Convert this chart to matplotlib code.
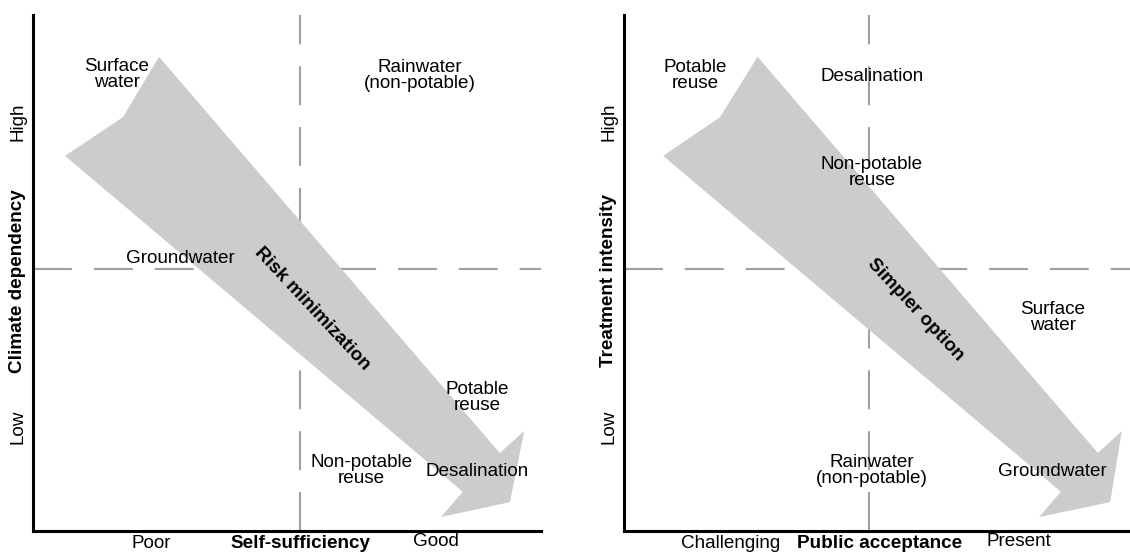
import matplotlib.pyplot as plt
from matplotlib.patches import Polygon

plt.rcParams['font.family'] = ['Liberation Sans', 'DejaVu Sans']

########   Values (axes run 0-10 on both sides)   ########

# left panel : self-sufficiency vs climate dependency
left_arrow_x = [0.63, 1.77, 2.48, 9.19, 9.67, 9.39, 8.03, 8.46]
left_arrow_y = [7.27, 8.02, 9.19, 1.51, 1.94, 0.56, 0.27, 0.76]
left_split = (5.26, 5.08)
left_labels = ['Surface\nwater', 'Rainwater\n(non-potable)', 'Groundwater',
               'Potable\nreuse', 'Non-potable\nreuse', 'Desalination']
left_lx = [1.65, 7.62, 2.91, 8.74, 6.46, 8.74]
left_ly = [8.84, 8.82, 5.29, 2.58, 1.18, 1.16]
left_arrow_text = ('Risk minimization', 5.49, 4.30)
left_xlabel = 'Self-sufficiency'
left_ylabel = 'Climate dependency'
left_xticks = ['Poor', 'Good']

# right panel : public acceptance vs treatment intensity
right_arrow_x = [0.77, 1.89, 2.63, 9.33, 9.80, 9.57, 8.17, 8.60]
right_arrow_y = [7.27, 8.02, 9.19, 1.51, 1.94, 0.56, 0.27, 0.76]
right_split = (4.82, 5.08)
right_labels = ['Potable\nreuse', 'Desalination', 'Non-potable\nreuse',
                'Surface\nwater', 'Rainwater\n(non-potable)', 'Groundwater']
right_lx = [1.40, 4.88, 4.88, 8.44, 4.88, 8.44]
right_ly = [8.82, 8.80, 6.94, 4.13, 1.18, 1.16]
right_arrow_text = ('Simpler option', 5.73, 4.28)
right_xlabel = 'Public acceptance'
right_ylabel = 'Treatment intensity'
right_xticks = ['Challenging', 'Present']

fs = 13.6
dash = (0, (18.7, 10.5))


def panel(ax, ax_x, ax_y, split, labels, lx, ly, atext, xlabel, ylabel,
          xticks, xtick_pos, xlabel_pos):
    ax.set_ylim(0, 10)
    for s in ['top', 'right']:
        ax.spines[s].set_visible(False)
    for s in ['left', 'bottom']:
        ax.spines[s].set_linewidth(2.2)
    ax.set_xticks([])
    ax.set_yticks([])
    ax.patch.set_alpha(0)
    # quadrant dividers, behind the arrow
    ax.axvline(split[0], c='#a0a0a0', lw=1.5, ls=dash, zorder=1)
    ax.axhline(split[1], c='#a0a0a0', lw=1.5, ls=dash, zorder=1)
    ax.add_patch(Polygon(list(zip(ax_x, ax_y)), closed=True, fc='#cccccc',
                         ec='none', zorder=2))
    for t, x, y in zip(labels, lx, ly):
        ax.text(x, y, t, ha='center', va='center', fontsize=fs,
                linespacing=0.93, zorder=3)
    ax.text(atext[1], atext[2], atext[0], ha='center', va='center',
            fontsize=fs, fontweight='bold', rotation=-47,
            rotation_mode='anchor', zorder=3)
    # axis words
    ax.text(xtick_pos[0], -0.33, xticks[0], ha='center', va='baseline',
            fontsize=fs, clip_on=False)
    ax.text(xtick_pos[1], -0.29, xticks[1], ha='center', va='baseline',
            fontsize=fs, clip_on=False)
    ax.text(xlabel_pos, -0.33, xlabel, ha='center', va='baseline',
            fontsize=fs, fontweight='bold', clip_on=False)
    ax.text(-0.30, 7.93, 'High', ha='center', va='center', rotation=90,
            fontsize=fs, clip_on=False)
    ax.text(-0.30, 2.02, 'Low', ha='center', va='center', rotation=90,
            fontsize=fs, clip_on=False)
    ax.text(-0.30, 4.85, ylabel, ha='center', va='center', rotation=90,
            fontsize=fs, fontweight='bold', clip_on=False)


fig = plt.figure(figsize=(11.3, 5.53), dpi=100)
ax1 = fig.add_axes([33/1130, 22/553, 508/1130, 516/553])
ax1.set_xlim(0, 10)
ax2 = fig.add_axes([624/1130, 22/553, 506/1130, 516/553])
ax2.set_xlim(0, 506/50.8)

panel(ax1, left_arrow_x, left_arrow_y, left_split, left_labels, left_lx,
      left_ly, left_arrow_text, left_xlabel, left_ylabel, left_xticks,
      (2.32, 7.93), 5.26)
panel(ax2, right_arrow_x, right_arrow_y, right_split, right_labels, right_lx,
      right_ly, right_arrow_text, right_xlabel, right_ylabel, right_xticks,
      (2.09, 7.78), 5.04)

plt.savefig('out.png', dpi=100)
